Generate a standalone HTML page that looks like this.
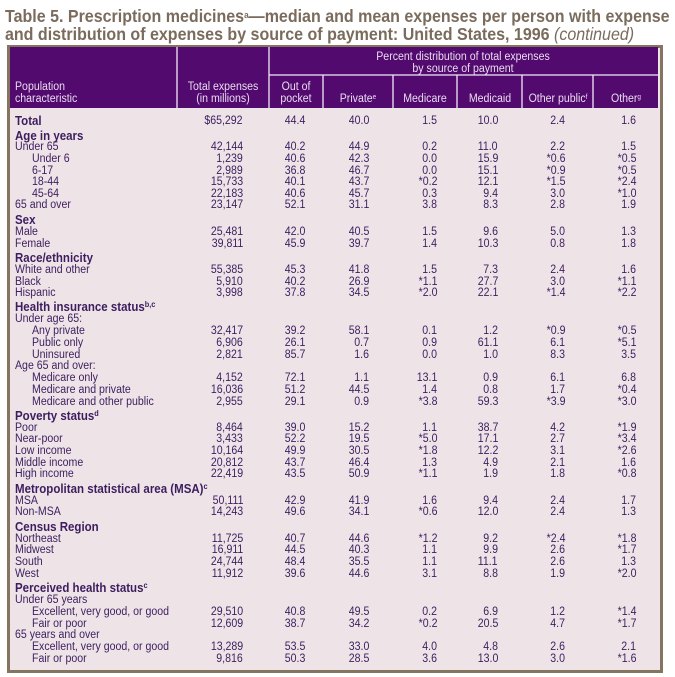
<!DOCTYPE html>
<html><head><meta charset="utf-8">
<style>
html,body{margin:0;padding:0;background:#fff;}
#root{position:relative;width:675px;height:677px;overflow:hidden;font-family:"Liberation Sans",sans-serif;}
.t{position:absolute;white-space:nowrap;line-height:12px;}
sup{line-height:0;vertical-align:0;position:relative;top:-0.5em;}
.title{position:absolute;left:5px;font-weight:bold;font-size:17.5px;color:#7a6b5c;white-space:nowrap;transform-origin:left top;line-height:17px;}
.hdr{color:#eadcf0;font-size:11.5px;}
.cell{color:#3d1d5e;font-size:11.5px;}
</style></head>
<body>
<div id="root">
<div class="title" style="top:8px;transform:scaleX(0.915)">Table 5. Prescription medicines<sup style="font-size:9px">a</sup>—median and mean expenses per person with expense</div>
<div class="title" style="top:26px;transform:scaleX(0.915)">and distribution of expenses by source of payment: United States, 1996 <span style="font-weight:normal;font-style:italic">(continued)</span></div>
<div style="position:absolute;left:7px;top:45px;width:650px;height:622px;border:3px solid #85745f;background:#eee4e8;"></div>
<div style="position:absolute;left:10px;top:47px;width:648px;height:61px;background:#520a6e;"></div>
<svg style="position:absolute;left:0;top:0" width="675" height="677">
<g stroke="#f2e8f6" stroke-width="1.3">
<line x1="177" y1="47" x2="177" y2="108"/><line x1="269" y1="47" x2="269" y2="108"/>
<line x1="269" y1="75" x2="658" y2="75"/>
<line x1="323" y1="75" x2="323" y2="108"/><line x1="393" y1="75" x2="393" y2="108"/>
<line x1="457" y1="75" x2="457" y2="108"/><line x1="522" y1="75" x2="522" y2="108"/>
<line x1="593" y1="75" x2="593" y2="108"/>
</g></svg>
</div>
<script>
var root=document.getElementById('root');
function put(txt,x,y,cls,align,bold,name,sz){
  var d=document.createElement('div');
  d.className='t '+cls;
  d.innerHTML=txt;
  
  
  d.style.top=(y-6)+'px';
  if(sz)d.style.fontSize=sz+'px';
  if(bold)d.style.fontWeight='bold';
  if(align==='r'){d.style.right=(675-x)+'px';d.style.transformOrigin='right center';d.style.transform='scaleX(0.92)';}
  else if(align==='c'){d.style.left=x+'px';d.style.transform='translateX(-50%) scaleX(0.92)';}
  else {d.style.left=x+'px';d.style.transformOrigin='left center';d.style.transform='scaleX(0.92)';}
  root.appendChild(d);
}
put('Population',15,87,'hdr','l',false,'header-population');
put('characteristic',15,99,'hdr','l',false,'header-characteristic');
put('Total expenses',223,87,'hdr','c',false,'header-total-expenses');
put('(in millions)',223,99,'hdr','c',false,'header-in-millions');
put('Percent distribution of total expenses',463,57,'hdr','c',false,'header-percent-distribution');
put('by source of payment',463,69,'hdr','c',false,'header-by-source');
put('Out of',296,87,'hdr','c',false,'header-out-of');
put('pocket',296,99,'hdr','c',false,'header-pocket');
put('Private<sup style="font-size:7px">e</sup>',358,99,'hdr','c',false,'header-private');
put('Medicare',425,99,'hdr','c',false,'header-medicare');
put('Medicaid',490,99,'hdr','c',false,'header-medicaid');
put('Other public<sup style="font-size:7px">f</sup>',558,99,'hdr','c',false,'header-other-public');
put('Other<sup style="font-size:7px">g</sup>',626,99,'hdr','c',false,'header-other');
var rows=[
['Total',0,2,121,'$65,292','44.4','40.0','1.5','10.0','2.4','1.6'],
['Age in years',0,1,136],
['Under 65',0,0,147,'42,144','40.2','44.9','0.2','11.0','2.2','1.5'],
['Under 6',1,0,159,'1,239','40.6','42.3','0.0','15.9','*0.6','*0.5'],
['6-17',1,0,170.5,'2,989','36.8','46.7','0.0','15.1','*0.9','*0.5'],
['18-44',1,0,182,'15,733','40.1','43.7','*0.2','12.1','*1.5','*2.4'],
['45-64',1,0,193.5,'22,183','40.6','45.7','0.3','9.4','3.0','*1.0'],
['65 and over',0,0,205,'23,147','52.1','31.1','3.8','8.3','2.8','1.9'],
['Sex',0,1,220],
['Male',0,0,232,'25,481','42.0','40.5','1.5','9.6','5.0','1.3'],
['Female',0,0,244,'39,811','45.9','39.7','1.4','10.3','0.8','1.8'],
['Race/ethnicity',0,1,258],
['White and other',0,0,270,'55,385','45.3','41.8','1.5','7.3','2.4','1.6'],
['Black',0,0,282,'5,910','40.2','26.9','*1.1','27.7','3.0','*1.1'],
['Hispanic',0,0,293,'3,998','37.8','34.5','*2.0','22.1','*1.4','*2.2'],
['Health insurance status<sup style="font-size:8px">b,c</sup>',0,1,307],
['Under age 65:',0,0,319],
['Any private',1,0,331,'32,417','39.2','58.1','0.1','1.2','*0.9','*0.5'],
['Public only',1,0,343,'6,906','26.1','0.7','0.9','61.1','6.1','*5.1'],
['Uninsured',1,0,354.5,'2,821','85.7','1.6','0.0','1.0','8.3','3.5'],
['Age 65 and over:',0,0,366],
['Medicare only',1,0,378,'4,152','72.1','1.1','13.1','0.9','6.1','6.8'],
['Medicare and private',1,0,390,'16,036','51.2','44.5','1.4','0.8','1.7','*0.4'],
['Medicare and other public',1,0,401.5,'2,955','29.1','0.9','*3.8','59.3','*3.9','*3.0'],
['Poverty status<sup style="font-size:8px">d</sup>',0,1,416],
['Poor',0,0,427.5,'8,464','39.0','15.2','1.1','38.7','4.2','*1.9'],
['Near-poor',0,0,439,'3,433','52.2','19.5','*5.0','17.1','2.7','*3.4'],
['Low income',0,0,451,'10,164','49.9','30.5','*1.8','12.2','3.1','*2.6'],
['Middle income',0,0,462.5,'20,812','43.7','46.4','1.3','4.9','2.1','1.6'],
['High income',0,0,474,'22,419','43.5','50.9','*1.1','1.9','1.8','*0.8'],
['Metropolitan statistical area (MSA)<sup style="font-size:8px">c</sup>',0,1,489],
['MSA',0,0,500.5,'50,111','42.9','41.9','1.6','9.4','2.4','1.7'],
['Non-MSA',0,0,512,'14,243','49.6','34.1','*0.6','12.0','2.4','1.3'],
['Census Region',0,1,527],
['Northeast',0,0,538.5,'11,725','40.7','44.6','*1.2','9.2','*2.4','*1.8'],
['Midwest',0,0,550,'16,911','44.5','40.3','1.1','9.9','2.6','*1.7'],
['South',0,0,562,'24,744','48.4','35.5','1.1','11.1','2.6','1.3'],
['West',0,0,574,'11,912','39.6','44.6','3.1','8.8','1.9','*2.0'],
['Perceived health status<sup style="font-size:8px">c</sup>',0,1,588],
['Under 65 years',0,0,600],
['Excellent, very good, or good',1,0,612,'29,510','40.8','49.5','0.2','6.9','1.2','*1.4'],
['Fair or poor',1,0,623.5,'12,609','38.7','34.2','*0.2','20.5','4.7','*1.7'],
['65 years and over',0,0,635],
['Excellent, very good, or good',1,0,647,'13,289','53.5','33.0','4.0','4.8','2.6','2.1'],
['Fair or poor',1,0,658.5,'9,816','50.3','28.5','3.6','13.0','3.0','*1.6']
];
var rights=[243,305,369,437,498,565,636];
var colNames=['total-expenses','out-of-pocket','private','medicare','medicaid','other-public','other'];
rows.forEach(function(r,i){
  var bold=r[2]>0;
  put(r[0],r[1]?32:15,r[3],'cell','l',bold,'row-label-'+i,bold?12.5:11.5);
  for(var j=0;j<7;j++){
    if(r[4+j]!==undefined) put(r[4+j],rights[j],r[3],'cell','r',false,'cell-'+colNames[j]+'-'+i);
  }
});
</script>
</body></html>
